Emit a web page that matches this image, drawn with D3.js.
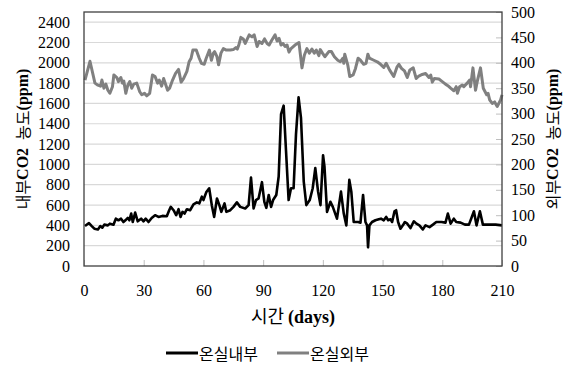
<!DOCTYPE html>
<html>
<head>
<meta charset="utf-8">
<script src="https://cdn.jsdelivr.net/npm/d3@7"></script>
<style>
  body { margin: 0; background: #fff; }
  .tick-label { font-family: "Liberation Serif", serif; font-size: 16px; fill: #000; }
  .kr { font-family: "Noto Sans CJK KR", sans-serif; }
  .lat { font-family: "Liberation Serif", serif; font-weight: bold; }
</style>
</head>
<body>
<div id="chart"></div>
<script>
// 온실 내부 CO2 (왼쪽 축, ppm)
const innerDay = [0.5,2.5,3.9,5.2,7,8.2,9.2,10.2,12,13,14.8,16,17.3,18.6,19.8,21.1,22,22.8,23.7,24.5,25.7,27,28.7,29.9,31,32.4,34,35.7,37.4,39.4,41.6,42.8,43.6,45,46.3,47.5,48.5,49.5,50.5,51.7,53.3,55,56.7,57.9,59.2,60,61.4,62.9,64.2,65.4,66.8,68,69,70.6,71.5,73.5,75.1,76.8,78.5,81,82.7,83.9,85.2,86.4,87.7,89.4,90.6,91.6,92.8,94,95,96.6,97.8,99,100.3,101.5,102.8,104,105.3,106.5,107.8,109,110.4,111.7,113.4,114.9,116.2,117.6,118.8,120.1,120.8,122.1,123.8,125,127.1,129.1,130.5,131.8,133.3,134.3,135.5,137.7,138.9,140.2,141.4,142.2,142.7,143.4,144.7,146.4,148.1,149.2,150.6,151.8,152.8,154,154.8,156,156.8,157.8,159,160.2,161.2,162.4,164,165.7,167,168.5,170.2,171.6,173.6,175.3,177,179.6,181.6,182.8,184.2,185.8,187,189.2,191.4,193.4,195.9,197.2,198.9,200.4,203.4,206.8,210];
const innerPpm = [393,423,393,367,360,393,377,407,400,417,407,466,450,466,433,456,473,450,516,433,526,440,466,440,466,433,473,500,483,493,490,549,582,549,500,559,483,533,516,559,549,606,626,616,682,649,725,765,599,483,665,599,533,616,533,549,582,626,582,566,599,871,566,649,665,825,632,572,699,582,649,699,881,1495,1578,1130,649,765,765,1296,1660,1461,831,599,649,765,964,732,599,1090,980,533,632,582,466,732,516,400,848,732,433,433,427,699,433,400,184,400,433,450,460,466,450,483,450,460,433,539,549,433,367,400,433,417,373,440,417,400,360,400,383,407,433,433,427,516,417,466,433,427,407,407,539,400,539,407,407,407,400];

// 온실 외부 CO2 (오른쪽 축, ppm)
const outerDay = [0.5,3,5.5,7,8.3,9,10,11,12,13,14.3,15,16.5,17.3,18.5,19.3,20,21,22,23,24,25,26.5,28,29,30.4,31.5,33,34.4,35.7,37,37.8,39,40,42,43,44.5,46,47.5,48.8,50,51.7,52.8,53.8,54.7,56.4,57.9,59,60.4,61.4,63,64,65,65.6,66.8,67.6,68.8,70,71.5,73.5,75,76.3,77,77.7,78.8,80,81,83,84.4,85.5,87,88,89.4,90.7,92,93,94.4,96,97,98,99,100,101,102,103,104,106,108,109.5,110.7,112,113.2,114.5,115.7,116.7,118,118.7,119.8,121,123,124.3,125.8,127.5,128.8,130,130.5,131,132.5,133.5,135.2,136.4,137.7,138.9,140.5,141.7,142.6,143.4,145.6,147.3,149,150.6,151.8,153.5,155.6,157.3,158.2,159.5,161,162.4,163.7,165.4,166.9,168.2,169.9,171.6,173.3,174.2,175,176,178.3,180,181.6,182.8,184.2,185.8,187,187.6,188.7,190,190.8,192.5,193.7,194.2,195.4,196.7,197.6,199.2,200.6,202.3,203,203.8,205.1,206.3,207.6,209.3,210];
const outerPpm = [366,403,360,356,354,366,350,358,346,340,353,376,371,363,371,360,364,340,356,363,350,358,360,343,337,340,335,340,376,373,360,366,354,369,346,350,366,379,387,362,369,383,402,409,425,425,409,399,397,409,425,405,419,422,412,396,419,428,425,425,426,430,427,434,450,447,438,455,451,455,432,442,438,447,438,435,445,455,443,448,435,438,432,435,421,428,435,440,390,415,428,419,427,419,425,414,426,419,412,422,422,412,405,402,409,399,417,396,373,376,389,409,405,397,399,417,409,405,402,397,391,399,386,373,392,397,389,384,371,386,390,369,374,377,379,371,376,362,369,368,363,358,355,350,345,353,340,353,356,353,360,366,353,390,346,364,390,350,337,340,327,320,323,314,327,337];

const xTicks = [0, 30, 60, 90, 120, 150, 180, 210];
const leftTicks = d3.range(0, 2401, 200);
const rightTicks = d3.range(0, 501, 50);
const seriesNames = ["온실내부", "온실외부"];

const W = 569, H = 365;
const margin = { top: 12, right: 67, bottom: 99, left: 84 };
const width = W - margin.left - margin.right;
const height = H - margin.top - margin.bottom;

const root = d3.select("#chart").append("svg")
  .attr("width", W).attr("height", H);
const svg = root.append("g")
  .attr("transform", `translate(${margin.left},${margin.top})`);

const x = d3.scaleLinear().domain([0, 210]).range([0, width]);
const yL = d3.scaleLinear().domain([0, 2500]).range([height, 0]);
const yR = d3.scaleLinear().domain([0, 500]).range([height, 0]);

// gridlines
svg.append("g")
  .selectAll("line")
  .data(leftTicks.filter(d => d > 0))
  .enter().append("line")
  .attr("x1", 0).attr("x2", width)
  .attr("y1", d => yL(d)).attr("y2", d => yL(d))
  .attr("stroke", "#d9d9d9").attr("stroke-width", 1.2);

// left axis
const gl = svg.append("g")
  .call(d3.axisLeft(yL).tickValues(leftTicks).tickFormat(d3.format("d")).tickSize(0).tickPadding(14));
gl.select(".domain").remove();
gl.selectAll("text").attr("class", "tick-label").attr("font-family", null).attr("font-size", null);

// right axis (ticks inside)
const gr = svg.append("g")
  .attr("transform", `translate(${width},0)`)
  .call(d3.axisRight(yR).tickValues(rightTicks).tickFormat(d3.format("d")).tickSize(0).tickPadding(9));
gr.select(".domain").remove();
gr.selectAll("text").attr("class", "tick-label").attr("font-family", null).attr("font-size", null);
gr.selectAll(".tick").append("line")
  .attr("x1", -6).attr("x2", 0)
  .attr("stroke", "#bfbfbf");

// bottom axis (ticks inside)
const gb = svg.append("g")
  .attr("transform", `translate(0,${height})`)
  .call(d3.axisBottom(x).tickValues(xTicks).tickSize(0).tickPadding(19));
gb.select(".domain").remove();
gb.selectAll("text").attr("class", "tick-label").attr("font-family", null).attr("font-size", null);
gb.selectAll(".tick").append("line")
  .attr("y1", -6).attr("y2", 0)
  .attr("stroke", "#bfbfbf");

// lines
const innerData = innerDay.map((d, i) => [d, innerPpm[i]]);
const outerData = outerDay.map((d, i) => [d, outerPpm[i]]);

svg.append("path")
  .datum(outerData)
  .attr("fill", "none")
  .attr("stroke", "#808080")
  .attr("stroke-width", 3)
  .attr("stroke-linejoin", "round")
  .attr("d", d3.line().x(d => x(d[0])).y(d => yR(d[1])));

svg.append("path")
  .datum(innerData)
  .attr("fill", "none")
  .attr("stroke", "#000")
  .attr("stroke-width", 2.6)
  .attr("stroke-linejoin", "round")
  .attr("d", d3.line().x(d => x(d[0])).y(d => yL(d[1])));

// frame
svg.append("rect")
  .attr("width", width).attr("height", height)
  .attr("fill", "none").attr("stroke", "#404040").attr("stroke-width", 1.3);

// axis titles
function yTitle(tx, prefix) {
  const t = root.append("text")
    .attr("transform", `translate(${tx},${margin.top + height / 2}) rotate(-90)`)
    .attr("text-anchor", "middle")
    .attr("dominant-baseline", "central")
    .attr("font-size", 16);
  t.append("tspan").attr("class", "kr").text(prefix);
  t.append("tspan").attr("class", "lat").text("CO2");
  t.append("tspan").attr("class", "kr").attr("dx", 8).text("농도");
  t.append("tspan").attr("class", "lat").text("(ppm)");
}
yTitle(22, "내부");
yTitle(552, "외부");

const xt = root.append("text")
  .attr("x", margin.left + width / 2)
  .attr("y", 323)
  .attr("text-anchor", "middle")
  .attr("font-size", 18);
xt.append("tspan").attr("class", "kr").text("시간 ");
xt.append("tspan").attr("class", "lat").text("(days)");

// legend
const legend = root.append("g").attr("transform", "translate(166,353)");
const lg = legend.selectAll("g")
  .data(seriesNames)
  .enter().append("g")
  .attr("transform", (d, i) => `translate(${i * 111},0)`);
lg.append("line")
  .attr("x1", 0).attr("x2", 32)
  .attr("stroke", (d, i) => i === 0 ? "#000" : "#808080")
  .attr("stroke-width", 3);
lg.append("text")
  .attr("class", "kr")
  .attr("x", 33)
  .attr("dominant-baseline", "central")
  .attr("font-size", 16)
  .text(d => d);
</script>
</body>
</html>
